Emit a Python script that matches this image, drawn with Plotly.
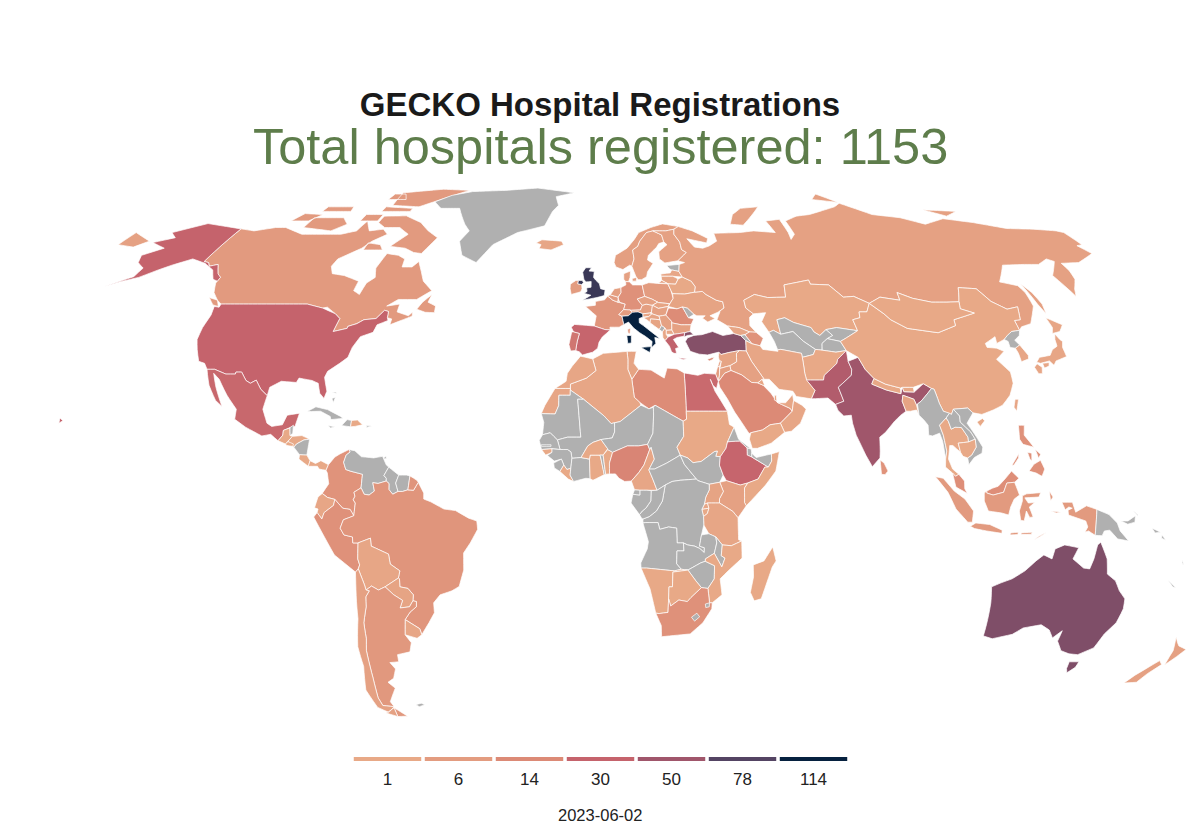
import numpy as np
import plotly.graph_objects as go

TITLE = "GECKO Hospital Registrations"
SUBTITLE = "Total hospitals registered: 1153"
DATE_LABEL = "2023-06-02"

# Colour steps of the legend
legend_breaks = [1, 6, 14, 30, 50, 78, 114]
legend_colors = ["#E8A987", "#E39C80", "#DC8A76", "#C5636C", "#A0566B", "#544463", "#06213F"]
NO_DATA = "#B0B0B0"

# Hospitals per country, read from the colours (countries not listed are grey)
hospitals = {
    "Italy": 114, "United Kingdom": 90, "Australia": 62, "Turkey": 60, "India": 50, "Pakistan": 40,
    "Bangladesh": 3, "USA": 30, "Mexico": 28, "Spain": 29, "Portugal": 22, "Greece": 32, "Ethiopia": 29,
    "Egypt": 27, "Nigeria": 16, "Saudi Arabia": 14, "Libya": 13, "South Africa": 11, "Romania": 13,
    "Germany": 11, "France": 9, "Canada": 7, "Brazil": 9, "Argentina": 8, "Colombia": 10, "Peru": 11,
    "Ecuador": 2, "Bolivia": 2, "Paraguay": 3, "Uruguay": 2, "Chile": 4, "Russia": 4, "China": 1,
    "Kazakhstan": 1, "Mongolia": 1, "Norway": 5, "Sweden": 4, "Finland": 4, "Denmark": 4, "Iceland": 2,
    "Ireland": 6, "Belgium": 6, "Netherlands": 5, "Luxembourg": 2, "Switzerland": 6, "Austria": 5,
    "Poland": 6, "Czechia": 4, "Slovakia": 3, "Hungary": 4, "Slovenia": 2, "Croatia": 3, "Bosnia": 3,
    "Serbia": 4, "North Macedonia": 2, "Albania": 2, "Bulgaria": 4, "Latvia": 2, "Lithuania": 2,
    "Belarus": 1, "Ukraine": 3, "Georgia": 2, "Azerbaijan": 10, "Cyprus": 14, "Afghanistan": 1, "Iran": 2,
    "Iraq": 4, "Syria": 3, "Lebanon": 5, "Israel": 6, "Jordan": 5, "Kuwait": 2, "Qatar": 2, "UAE": 2,
    "Oman": 2, "Yemen": 1, "Nepal": 1, "Bhutan": 1, "Sri Lanka": 10, "Taiwan": 2, "South Korea": 2,
    "Japan": 2, "Thailand": 1, "Cambodia": 1, "Malaysia": 12, "Indonesia": 7, "Philippines": 11,
    "New Zealand": 4, "Guatemala": 1, "Honduras": 1, "El Salvador": 1, "Costa Rica": 1, "Panama": 1,
    "Dominican Republic": 1, "Tunisia": 3, "Algeria": 2, "Morocco": 2, "Western Sahara": 2, "Sudan": 1,
    "Somalia": 1, "Kenya": 4, "Uganda": 3, "Rwanda": 2, "Burundi": 1, "Tanzania": 2, "Mozambique": 1,
    "Namibia": 1, "Botswana": 1, "Madagascar": 1, "Ghana": 1, "Burkina Faso": 1, "Benin": 1,
    "Cameroon": 2, "Liberia": 1, "Guinea-Bissau": 1,
}

# Hand-estimated outlines: "lon lat lon lat ..." with "|" between separate land masses
outlines = {
    "Canada": "-141 69.6 -135 69 -128 70 -124 70 -115 68 -108 68 -100 68 -95 69 -94 72 -90 69 -85 69.5 -82 68 -86 66 -88 64 -94 61 -94.5 59 -92.5 57 -88 56.5 -82 55 -82 52.5 -79.5 51.5 -79 54.5 -77 56 -78.5 58.5 -77.5 62.5 -73 62 -70 61 -69.5 58.8 -66 58.8 -64.5 60.3 -62 57.5 -60 55 -56 52.5 -60 50.2 -66 50.2 -69 48.5 -65 49 -65 47 -61 46 -60 47 -59.8 45.9 -66 43.7 -66 45.2 -67.5 45.5 -67.8 47.1 -69.2 47.4 -71 45.3 -74.7 45 -76.5 44 -79 43.3 -79 42.8 -83 42 -82.5 45.3 -84.5 46.5 -88 48.2 -89.5 48 -95 49 -123 49 -125 50 -128 52 -130 54.5 -130 55 -130 56 -132 57 -135 59.5 -137.5 59 -139 60 -141 60.3|-59 47.7 -57.8 49.5 -55.5 51.5 -56 49.5 -53.2 48.5 -53 46.8 -56 46.9|-128.3 50.7 -125 50 -123.4 48.4 -125.5 48.8|-80 73.6 -72 71.5 -67 69 -62 67 -65 62.5 -68 62.8 -72 64 -78 64.5 -74 68 -79 70 -85 70 -89 71.5 -89 73.5|-117 70 -105 69 -101 71 -105 73 -117 73|-125 72 -118 72 -115 74 -123 74.3|-90 77 -78 76.5 -62 82.5 -75 83 -92 81.5|-92 75 -80 75 -80 76 -92 76.5|-117 75 -105 75 -106 76.5 -117 76.5|-95 79 -87 79 -90 81 -95 81|-97 72 -90 72 -90 74 -97 74|-87 63.5 -80 63.5 -82 65 -87 65.5",
    "USA": "-123 49 -95 49 -89.5 48 -84.5 46.5 -82.5 45.3 -83 42 -79 42.8 -79 43.3 -76.5 44 -74.7 45 -71 45.3 -69.2 47.4 -67.8 47.1 -67.5 45.5 -67 44.8 -70 43.7 -70.5 41.8 -74 40.7 -75.5 38 -76 35.5 -78 34 -81 32 -81.5 30.5 -80 27 -80.5 25.2 -82 26.5 -83 29 -85 29.7 -89 30.3 -89.5 29.2 -94 29.5 -97 28 -97.2 25.9 -99.5 27.5 -101.5 29.8 -103 29 -104.5 29.7 -106.5 31.8 -108.2 31.8 -108.2 31.3 -111 31.3 -114.8 32.5 -117.1 32.5 -118.5 34 -120.5 34.5 -122.5 37.5 -124 40 -124.3 43 -124 46.2 -124.7 48.4 -123 48.2|-141 69.6 -141 60.3 -139 60 -137.5 59 -135 59.5 -132 57 -130 56 -130 55 -132 55.5 -135 58 -140 59.8 -146 61 -151 59.3 -154 58 -158 56 -163 54.8 -166.5 53.6 -160 56.2 -160 58.5 -164 60 -166 62 -161 64 -168 65.6 -162 67 -166 68.5 -157 71.2 -148 70.3|-156 19 -155 19.6 -156 20.3",
    "Greenland": "-73 78.2 -68 76 -60 76 -54 71 -51 69 -53 66 -50 62 -44 60 -40 65 -32 68.5 -22 70.5 -20 75 -18 77 -20 80 -12 81.5 -30 83.5 -45 82.5 -60 82 -68 80.5",
    "Mexico": "-117.1 32.5 -114.8 32.5 -111 31.3 -108.2 31.3 -108.2 31.8 -106.5 31.8 -104.5 29.7 -103 29 -101.5 29.8 -99.5 27.5 -97.2 25.9 -97.8 22.5 -96 19 -94.5 18.2 -91.5 18.6 -90.5 21 -87 21.5 -87.8 18.2 -89.2 17.9 -91 17.2 -91 16 -92.2 14.6 -94.5 16.2 -97 15.8 -102 18 -105.5 20 -105.5 22.5 -109 26 -112.5 30 -114.7 31.5 -112.8 28 -109.8 23.2 -112 24.7 -115 28.5",
    "Guatemala": "-92.2 14.6 -91 16 -91 17.2 -89.2 17.8 -88.9 15.9 -88.2 15.7 -89.2 14.6 -90 13.8",
    "Belize": "-89.2 17.9 -88.3 18.5 -88.2 16.5 -88.9 15.9",
    "Honduras": "-89.3 14.5 -88.2 15.7 -85.5 15.9 -83.2 15 -84.8 14.8 -86.8 13.8 -87.5 13",
    "El Salvador": "-90 13.8 -89.3 14.4 -87.7 13.8 -87.8 13.2 -89.5 13.4",
    "Nicaragua": "-87.5 13 -86.8 13.8 -84.8 14.8 -83.2 15 -83.6 11 -85.7 11.1",
    "Costa Rica": "-85.7 11.1 -83.6 11 -82.6 9.6 -83 8.2 -85.8 10",
    "Panama": "-83 8.2 -82.6 9.6 -81 8.9 -79.5 9.6 -77.3 8.6 -77.9 7.2 -79.9 7.5 -80.4 8.2",
    "Cuba": "-84.9 21.9 -82.5 23.1 -79 22.4 -75 20.7 -74.2 20.2 -77.7 19.9 -78 20.7 -81 22",
    "Jamaica": "-78.3 18.4 -76.3 18.1 -77.5 17.8",
    "Haiti": "-74.4 18.4 -73 19.9 -71.7 19.7 -71.8 18.1",
    "Dominican Republic": "-71.7 19.7 -70 19.8 -68.4 18.6 -70.5 18.2 -71.8 18.1",
    "Puerto Rico": "-67.2 18.4 -65.7 18.3 -67.2 17.95",
    "Bahamas": "-78.2 25.2 -77.6 24.2 -77.2 25.5|-77.5 26.8 -76.9 26.5 -78.5 26.6",
    "Trinidad": "-61.9 10.1 -60.9 10.1 -61 10.8",
    "Colombia": "-77.3 8.6 -75.6 10.5 -74.2 11.3 -71.7 12.4 -71.3 11.8 -72.4 11 -73 9.2 -72.3 7.4 -71 7 -67.5 6.2 -67.8 2.8 -69.8 1.7 -69.5 0.7 -70 -0.2 -69.4 -1 -69.9 -4.2 -70.9 -2.6 -73 -2.3 -75.2 -0.1 -77.3 0.4 -78.8 1.4 -77 3.8 -77.5 6.5 -77.9 7.2",
    "Venezuela": "-71.7 12.4 -70 12.1 -68 10.6 -64.5 10.3 -62 10.7 -60.8 8.5 -60.1 8 -61.4 5.9 -60.7 5.2 -60.7 4.5 -63 3.9 -64.5 4.1 -64 2 -65.5 1 -66.9 1.2 -67.8 2.8 -67.5 6.2 -71 7 -72.3 7.4 -73 9.2 -72.4 11 -71.3 11.8",
    "Guyana": "-60.1 8 -58.5 6.9 -57.2 6 -58 4 -57.3 1.9 -58.8 1.2 -59.9 2.4 -59.9 3.9 -60.7 4.5 -60.7 5.2 -61.4 5.9",
    "Suriname": "-57.2 6 -55 6 -54 5.8 -54.5 2.3 -56 1.9 -57.3 1.9 -58 4",
    "Ecuador": "-78.8 1.4 -77.3 0.4 -75.2 -0.1 -75.6 -1.6 -78.3 -3.4 -79 -5 -80.3 -3.4 -80 -2.5 -81 -2.2 -80 0.5",
    "Peru": "-81.3 -4.5 -80.3 -3.4 -79 -5 -78.3 -3.4 -75.6 -1.6 -75.2 -0.1 -73 -2.3 -70.9 -2.6 -69.9 -4.2 -72.9 -5.2 -73.9 -7.3 -72.9 -9 -70.5 -9.5 -70.5 -11 -69 -11 -69.4 -15 -69 -16.5 -69.5 -17.5 -70.4 -18.3 -76 -14 -78.5 -9.5",
    "Brazil": "-51.6 4.2 -50 1.5 -50 0 -48 -0.7 -44.3 -2.5 -41 -2.9 -37.3 -4.8 -35 -5.5 -34.8 -7.6 -37 -11 -39 -13.5 -39.2 -17.8 -40.8 -21.9 -43 -23 -46.5 -24 -48.6 -26 -48.7 -28.5 -50.7 -31 -53.4 -34 -53.7 -32.5 -57.6 -30.2 -55.8 -28.3 -53.8 -27 -53.6 -25.7 -54.6 -25.5 -54.3 -24 -55.7 -22.4 -58 -22 -57.9 -20 -58.2 -19.8 -57.6 -18 -60.2 -16.3 -60.5 -13.8 -65.3 -11.8 -65.4 -9.8 -69 -11 -70.5 -11 -70.5 -9.5 -72.9 -9 -73.9 -7.3 -72.9 -5.2 -69.9 -4.2 -69.4 -1 -70 -0.2 -69.5 0.7 -69.8 1.7 -67.8 2.8 -66.9 1.2 -65.5 1 -64 2 -64.5 4.1 -63 3.9 -60.7 4.5 -59.9 3.9 -59.9 2.4 -58.8 1.2 -57.3 1.9 -56 1.9 -54.5 2.3 -52.9 2.2",
    "Bolivia": "-69 -11 -65.4 -9.8 -65.3 -11.8 -60.5 -13.8 -60.2 -16.3 -57.6 -18 -58.2 -19.8 -62.3 -22 -64.3 -22.8 -66.2 -21.8 -67.9 -22.8 -68.2 -21.5 -69.5 -17.5 -69 -16.5 -69.4 -15",
    "Paraguay": "-58.2 -19.8 -57.9 -20 -58 -22 -55.7 -22.4 -54.3 -24 -54.6 -25.5 -55.8 -27 -58.6 -27.3 -57.6 -25.4 -60 -24 -62.3 -22",
    "Uruguay": "-57.6 -30.2 -53.7 -32.5 -53.4 -34 -55 -34.9 -58.4 -34",
    "Argentina": "-66.2 -21.8 -64.3 -22.8 -62.3 -22 -60 -24 -57.6 -25.4 -58.6 -27.3 -55.8 -27 -54.6 -25.5 -53.6 -25.7 -53.8 -27 -55.8 -28.3 -57.6 -30.2 -58.4 -34 -57 -36 -58 -38.3 -62 -39 -62.2 -40.8 -65 -41 -63.8 -42.6 -65.3 -45 -67.5 -46 -65.8 -47.5 -69 -51 -68.4 -52.3 -72 -52 -72.5 -50 -71.8 -45 -71.5 -42 -71.2 -38 -70.3 -35 -70 -31 -68.5 -27 -68.2 -24.5 -67 -23 -67.9 -22.8|-68.6 -52.6 -65.2 -54.8 -68.6 -54.9",
    "Chile": "-69.5 -17.5 -68.2 -21.5 -67.9 -22.8 -67 -23 -68.2 -24.5 -68.5 -27 -70 -31 -70.3 -35 -71.2 -38 -71.5 -42 -71.8 -45 -72.5 -50 -72 -52 -68.4 -52.3 -71 -53.8 -74 -52.5 -75.5 -48 -73.5 -42 -73.5 -37 -71.5 -30 -70.4 -18.3|-68.6 -52.6 -68.6 -54.9 -72 -54 -70 -53.2",
    "Falkland Islands": "-61 -51.8 -59 -51.4 -58 -51.8 -60 -52.3",
    "Iceland": "-24 65.5 -22 66.4 -18 66.2 -14.5 66 -13.6 65 -18 63.5 -22.5 63.9 -22 65",
    "Ireland": "-10 54.2 -8.2 55.2 -7.3 55.2 -7.5 54.3 -6.2 54.1 -6 53 -6.4 52.2 -9.5 51.5 -10 53",
    "United Kingdom": "-5.7 50 -1 50.7 1.4 51.2 1.7 52.7 0.2 53 -0.2 54.3 -1.5 55.3 -2.2 56 -2 57.6 -3.8 57.7 -3 58.6 -5 58.6 -6 57.4 -5.5 55.5 -4.8 54.8 -3 54.9 -3 53.4 -4.5 53.2 -4.3 52.3 -5.3 51.8 -3 51.3|-7.5 54.3 -7.3 55.2 -6 55.2 -5.6 54.6 -6.2 54.1",
    "France": "-1.8 43.4 -1.2 46 -4.7 48.4 -1.5 48.7 -1.5 49.7 1.5 50.1 2.5 51.1 4.2 50 5.8 49.5 8.2 49 7.6 47.6 6 46.3 7 45.9 7.5 43.8 6 43.1 3.1 43.1 3.2 42.4 1.5 42.5|8.6 42.5 9.5 42.9 9.3 41.4 8.7 41.6|-54 5.8 -52 4.7 -51.6 4.2 -52.9 2.2 -54.5 2.3",
    "Spain": "-9 43.1 -8 43.8 -1.8 43.4 1.5 42.5 3.2 42.4 0.7 40.6 -0.3 39.3 -0.7 37.8 -2.2 36.8 -5.3 36.1 -6.3 36.9 -7.4 37.2 -7 39.5 -6.4 41.5 -8.2 41.9",
    "Portugal": "-8.8 41.9 -8.2 41.9 -6.4 41.5 -7 39.5 -7.4 37.2 -8.9 37.1 -9.5 38.7",
    "Belgium": "2.5 51.1 3.4 51.4 6 50.8 5.8 49.5 4.2 50",
    "Netherlands": "3.4 51.4 4.8 53 7 53.3 7 52 6 50.8",
    "Luxembourg": "5.8 49.5 6.1 50.1 6.4 49.5",
    "Germany": "6 50.8 7 52 7 53.3 8.7 54 8.7 54.9 10 54.8 11 54 14.2 54 14.7 51 12.2 50.3 13.7 48.7 13 47.5 10 47.4 7.6 47.6 8.2 49 6.4 49.5 6.1 50.1",
    "Switzerland": "6 46.3 7.6 47.6 9.6 47.5 10.4 46.9 9 46 7 45.9",
    "Austria": "9.6 47.5 10 47.4 13 47.5 13.7 48.7 15 49 17 48.7 16.5 47 15.9 46.7 13.7 46.5 12.2 47 10.4 46.9",
    "Italy": "7 45.9 9 46 10.4 46.9 12.2 47 13.7 46.5 13.7 45.7 12.4 45.3 12.4 44.2 13.6 43.5 16 41.9 18.5 40.2 16.9 40.5 17.1 39 15.7 37.9 16 39.5 14 40.8 12.3 41.7 10.5 42.9 9 44.4 7.5 43.8|12.5 38 15.6 38.2 15.1 36.7|8.3 41 9.7 41 9.6 39.1 8.5 39",
    "Denmark": "8.1 55.5 8.2 57 10.6 57.7 10.3 56 9.7 54.9 8.7 54.9|11 55.7 12.6 56 12.3 55 11 55",
    "Norway": "5 60 5.6 62 10 64 13 66.5 15 68.5 20 70 25 71.1 31 70.3 29 69.5 25.7 69 20.6 69 18 68.5 15 66 14 64.5 12 63.5 12.2 61 11.2 59 10.5 59.3 8 58.1 5.6 58.8",
    "Sweden": "11.2 59 12.2 61 12 63.5 14 64.5 15 66 18 68.5 20.6 69 23.7 67.8 24 65.8 22 65.3 21 64.3 17.5 62 17 60.7 18.8 59.8 16.5 57.5 16 56.2 14.2 55.4 13 55.4 12.3 56.3",
    "Finland": "20.6 69 25.7 69 29 69.5 28.5 68 30 65.7 30 63.6 31.5 62.8 27.8 60.5 23 59.9 21.3 61 21.5 63 25 65 24 65.8 23.7 67.8",
    "Estonia": "23.5 59.2 28 59.5 27.4 57.6 25 58 24.3 58.3",
    "Latvia": "21 56.9 21 56.3 25 56.3 28.2 56.1 27.4 57.6 25 58 24.3 57.2 23 57.1",
    "Lithuania": "21 56.3 21 55.2 22.9 54.3 25.5 54.2 26.7 55.6 25 56.3",
    "Poland": "14.2 54 16.5 54.6 19.5 54.4 22.9 54.3 23.6 52.6 24 50.5 22.7 49.1 19 49.4 17 50.3 14.7 51",
    "Czechia": "12.2 50.3 14.7 51 17 50.3 18.8 49.5 17 48.7 15 49 13.7 48.7",
    "Slovakia": "17 48.7 18.8 49.5 19 49.4 22.5 49.1 22.1 48.4 18.8 47.9",
    "Hungary": "16.5 47 17 48.7 18.8 47.9 22.1 48.4 21 46.2 18.8 45.9 16.6 46.5",
    "Slovenia": "13.7 45.7 13.7 46.5 15.9 46.7 16.6 46.5 15.5 45.8",
    "Croatia": "13.7 45.5 15.5 45.8 16.6 46.5 18.8 45.9 19 45 16 45.2 15.8 44.2 18.5 42.5 14.8 45",
    "Bosnia": "16 45.2 19 45 19.3 43.5 18.5 42.5 15.8 44.2",
    "Serbia": "18.8 45.9 21 46.2 22.6 44.6 22.4 42.4 20.6 42.3 20.3 42.9 19.3 43.5 19 45",
    "Montenegro": "18.5 42.5 19.3 43.5 20.3 42.9 19.4 41.9",
    "North Macedonia": "20.5 41.3 20.6 42.3 22.4 42.4 23 41.3",
    "Albania": "19.4 41.9 20.3 42.9 20.6 42.3 20.5 41.3 21 40.6 20 39.7 19.4 40.5",
    "Romania": "21 46.2 22.1 48 24.8 47.8 26.6 48.3 28.1 45.5 29.7 45.2 28.6 43.7 25.5 43.7 22.6 44.2 22.6 44.6",
    "Moldova": "26.6 48.3 28.2 48 30 46.4 28.1 45.5",
    "Bulgaria": "22.6 44.2 25.5 43.7 28.6 43.7 28 42 26.3 41.7 23 41.3 22.4 42.4",
    "Greece": "20 39.7 21 40.6 23 41.3 26.3 41.7 26 40.8 23.8 40.5 22.6 40 23.3 39 24 38 23 37.7 23.2 36.5 22.4 36.5 21.7 36.9 21.2 38.3|23.6 35.4 26.3 35.2 25 34.9",
    "Turkey": "26 40.6 26.3 41.7 28 42 29 41.2 27 41|26.2 39.5 27 40.4 29 41 31.5 41.2 35 42 38 41 41.5 41.5 43.5 41 44.8 39.7 44.4 37.1 42.3 37.2 39 36.7 36.6 36.2 36 36.8 32.5 36.1 30 36.3 27.4 37",
    "Cyprus": "32.3 35 33.6 35.4 34.5 35.6 33.8 34.9 32.8 34.6",
    "Belarus": "23.6 52.6 22.9 54.3 25.5 54.2 26.7 55.6 28.2 56.1 31 55 32 53.5 31.4 52.1 28 51.6 24 51.7",
    "Ukraine": "24 50.5 22.7 49.1 22.1 48.4 24.8 47.8 26.6 48.3 28.2 48 30 46.4 30.8 46 33.5 46 32.5 45.4 34 44.4 36.5 45.3 35 46 38 47 40 48 40 49.6 38 50 35 51.5 34 52.3 31.4 52.1 28 51.6 24 51.7",
    "Russia": "30 60 27.8 60.5 31.5 62.8 30 63.6 30 65.7 28.5 68 29 69.5 31 70.3 36 69 41 66.8 40 65.5 33 66.7 35 64.3 38 64 40.5 64.6 44 66 44 68.3 54 68.5 60 69 68 68.5 67 72 73 72.5 73 68.5 72.5 66.5 75 68 75 72 81 73.5 87 74 101 76.5 105 77.7 113 74 123 73 130 71 140 72.7 150 71.5 160 69.7 170 69.5 178 69 179.9 68.5 179.9 65 177.5 64.7 179 62.5 170 60 163.5 59.8 163.3 57.8 162 55.5 158.5 52.9 156.7 51 155.7 56.5 161.8 60.3 160 61 155 59.5 150 59.5 142 59.3 135.5 54.8 140.5 53.8 141 52 140.2 48.5 135.5 44 132 43.2 130.7 42.3 131 44.8 133 45 134.9 48.3 131 47.7 127.5 49.7 125.7 53 120 53.3 117 49.6 113 49.5 108 49.5 102.5 50.5 98.5 52 98 50 92 50.8 87.5 49.2 83.5 51 80 50.8 77 54 71 54.2 71 55.3 62 54 61 50.8 55 50.7 51 51.5 47 50 47 48 49 46.5 47.5 45.6 47 43.5 48.5 41.8 46.5 41.9 43.5 43 40 43.4 37 45 38.5 47.1 38 47 40 48 40 49.6 38 50 35 51.5 34 52.3 31.4 52.1 32 53.5 31 55 28.2 56.1 27.4 57.6 28 59.5|142 54.3 143.2 52 143.5 49 142.5 46.5 142 49|52 71 57 70.7 68 76.5 60 76 55 74|19.8 54.5 21 55.2 22.8 54.4|-179.9 68.5 -170 66 -173 64.3 -179.9 65|95 79 105 78 100 81|137 75.5 143 73.5 150 75",
    "Georgia": "40 43.4 43.5 43 46.5 41.9 44.9 41.2 43.5 41 41.5 41.5",
    "Armenia": "43.5 41 44.9 41.2 46.5 39 46.5 38.9 44.8 39.7",
    "Azerbaijan": "44.9 41.2 46.5 41.9 48.5 41.8 50.3 40.3 48.9 38.4 46.5 38.9 46.5 39",
    "Kazakhstan": "47 50 51 51.5 55 50.7 61 50.8 62 54 71 55.3 71 54.2 77 54 80 50.8 83.5 51 87.5 49.2 85.5 47 83 47 82.5 45.5 80 45 80.2 42.2 74 43 70.5 42.5 68 41 66.5 41.9 66 43 61 44.3 58.6 45.5 56 45 56 41.3 54 42.3 52.5 41.8 51 44.5 53 46.8 49 46.5 47 48",
    "Uzbekistan": "56 45 58.6 45.5 61 44.3 66 43 66.5 41.9 68 41 70.5 42.5 72 41 70 40.2 68 39 67.5 37.3 65.5 37.5 62.5 39.5 60 42 56 41.3",
    "Turkmenistan": "52.5 41.8 54 42.3 56 41.3 60 42 62.5 39.5 65.5 37.5 64.5 36.2 61 35.5 61 36.5 55 37.5 54 37.4 53.5 39.5",
    "Kyrgyzstan": "70.5 42.5 74 43 80.2 42.2 76 40.4 73.8 39.5 70 40.2 72 41",
    "Tajikistan": "68 39 70 40.2 73.8 39.5 74.8 37.2 71.5 36.8 67.5 37.3",
    "Afghanistan": "61 35.5 64.5 36.2 65.5 37.5 67.5 37.3 71.5 36.8 74.8 37.2 71.5 35 71 34 69.5 33 66.5 31 66 29.8 61 29.8 60.8 31.5",
    "Pakistan": "60.9 29.8 66 29.8 66.5 31 69.5 33 71 34 71.5 35 74.8 37.2 74.5 34.5 75 32.5 74.5 31 70 28 71 24.5 68.5 23.7 66.5 25.3 61.6 25.1 63 27.2",
    "India": "74.5 34.5 77.8 35.5 79 32.5 81 30.2 80 28.8 84 27.3 88 26.4 88.8 28 89 26.9 92 26.8 95.2 28.9 97.3 27.7 93.5 24.5 92.3 23.8 92 23.5 91.5 25 88.5 26 88 24.5 88.7 22 87 21 85 19.5 82 16.7 80.2 15.5 80 12 79.8 10.3 77.5 8.1 75.8 11 73.5 16 72.8 19 72.7 21 70.5 20.8 69 22.2 68.5 23.7 71 24.5 70 28 74.5 31 75 32.5",
    "Nepal": "80 28.8 81 30.2 84 28.8 88.2 27.8 88 26.4 84 27.3",
    "Bhutan": "88.8 28 92 28 92 26.8 89 26.9",
    "Bangladesh": "88 24.5 88.5 26 91.5 25 92 23.5 92.3 21 91.8 22.3 90 22 88.7 22",
    "Sri Lanka": "79.8 9.8 80.9 9 81.9 7 81 6.1 80 6.2",
    "China": "74.8 37.2 73.8 39.5 76 40.4 80.2 42.2 80 45 82.5 45.5 83 47 85.5 47 87.5 49.2 90.7 46.5 92 45 96 42.8 105 41.7 111.5 43.5 112 45 119.7 46.7 116 47.8 117 49.6 120 53.3 125.7 53 127.5 49.7 131 47.7 134.9 48.3 133 45 131 44.8 130.7 42.3 128 42 126 41 124.4 40 121.5 39 122 40.7 118 39 118 38 120.8 37.8 122.6 37 119.3 35 122 31.8 121.7 29 119.8 26 117 23.5 114 22.3 110.5 21.2 108 21.6 106.7 22.8 102.5 22.5 101.7 21.2 99.5 22 98.7 24 98 27.5 97.3 27.7 95.2 28.9 92 28 88.8 28 88.2 27.8 84 28.8 81 30.2 79 32.5 77.8 35.5|108.7 19.3 110.5 20.2 111 19.6 109.5 18.2",
    "Mongolia": "87.5 49.2 92 50.8 98 50 98.5 52 102.5 50.5 108 49.5 113 49.5 117 49.6 116 47.8 119.7 46.7 112 45 111.5 43.5 105 41.7 96 42.8 92 45 90.7 46.5",
    "Taiwan": "121 25 122 25 120.8 22 120.2 23",
    "North Korea": "124.4 40 126 41 128 42 130.7 42.3 129.7 41 127.5 39.8 128.3 38.6 126.5 37.8 125 38 125.3 39.5",
    "South Korea": "126.5 37.8 128.3 38.6 129.4 36 129 35.1 126.5 34.4 126.7 36.5",
    "Japan": "141 41.4 141.5 40 142 39.5 141 38 140.8 35.7 137 34.6 135.8 33.5 135 34.6 132 34 131 34.3 132.5 35.5 136 36 137.5 37.4 139.5 38.3 140 40|141.5 45.5 145.2 43.7 143 42 140.3 41.5 141.5 43|130.9 33.9 132 33 131.3 31.4 130.2 31.4 129.7 33|132.6 34 134.7 34.2 134.2 33.3 132.6 32.8",
    "Myanmar": "92.3 21 92.3 23.8 93.5 24.5 97.3 27.7 98 27.5 98.7 24 99.5 22 101.2 21.5 100 20.3 97.8 18.5 98.5 16 99 12 98.5 10 98.1 14.5 97.5 16.5 95.4 15.8 94.3 16 94.5 18.5 93.5 19.8",
    "Thailand": "98.5 10 99 12 98.5 16 97.8 18.5 100 20.3 100.5 19.5 101 17.5 102.2 18 104 17.9 105.5 15.5 105.5 14.3 102.5 14 102.9 11.7 100.9 13.4 100 13.4 99.3 10 100.3 7.5 102 6.2 101 5.7 100.2 6.5 98.3 8",
    "Laos": "100 20.3 101.2 21.5 101.7 21.2 102.5 22.5 104 20.8 103.9 19.3 106.5 16.8 107.5 15 105.5 14.3 105.5 15.5 104 17.9 102.2 18 101 17.5 100.5 19.5",
    "Vietnam": "102.5 22.5 106.7 22.8 108 21.6 105.8 19 107.5 16.3 109.4 13 109 11.5 106.7 10.4 105 8.6 104.8 10.3 106 11 107.5 13 107.5 15 106.5 16.8 103.9 19.3 104 20.8",
    "Cambodia": "102.9 11.7 102.5 14 105.5 14.3 107.5 15 107.5 13 106 11 104.8 10.3 103.5 10.7",
    "Malaysia": "100.2 6.5 101 5.7 102 6.2 103.5 4.5 103.5 2.6 104.2 1.4 101 3|109.7 2 111.3 2.7 113 3.2 115 5 117 7 119 5.2 117.7 4.2 115.5 4 114.5 1.7 111.5 1 109.7 1.5",
    "Indonesia": "95.3 5.6 97.5 5.2 100.5 2 103.5 0 106 -3 105.8 -5.8 104.5 -5.8 101 -2.5 98.7 1.7|105.3 -6.8 106.8 -6 110.8 -6.4 114.4 -7.8 114.4 -8.6 110 -8 106.5 -7.4|109 1.5 109.7 2 109.7 1.5 111.5 1 114.5 1.7 115.5 4 117.7 4.2 119 1 117.5 0 116.5 -2 116 -4 114 -3.5 110.2 -3 109 -0.5|119.8 0.8 121 1.3 125 1.6 124.5 0.5 120.5 0.3 121.5 -1 123.3 -0.9 121.8 -2 123 -4.5 122 -4.6 121 -3 120.5 -5.5 119.5 -5.3 119 -3 119.8 -0.5|131 -0.8 134 -0.8 135 -3.3 138 -1.7 141 -2.6 141 -9.1 139 -8 138 -8.3 138.7 -7 138 -5.5 133 -4 132.8 -2.8 134 -2.3 133 -2 132 -2.7|123.5 -10.3 125 -9.3 127 -8.4 125 -9.6|119.8 -8.5 123 -8.3 122.8 -8.8 120 -8.9|116.8 -8.5 119 -8.3 119 -8.9 116.8 -9|127.5 2 128.5 0.5 127.8 -0.5 127.6 1|128 -3 130.8 -3.3 129.5 -3.5",
    "Philippines": "120.5 18.5 122.2 18.5 121.7 16 124 13 121 13.7 120.2 15|122 7 123.5 8.7 125.5 9.7 126.5 7.5 125.6 5.7 124 6.5|122 11.7 123.2 11.5 123 9.5 122.5 10|124.3 12.5 125.7 11.2 125 10.2|117.2 8.4 119.5 11.4 119.3 10.3 117.8 8.5",
    "Papua New Guinea": "141 -2.6 144.5 -3.9 147 -6 148 -8 150.7 -10.5 147.5 -10 145 -7.8 143.5 -8 143 -9.2 141 -9.1|148 -5.5 150 -5.5 152 -4.2 152 -5.8 150 -6.3|151 -2.8 152.8 -4 152.6 -4.1",
    "Solomon Islands": "157 -7.3 159.5 -8.3 158 -8.5|160 -9 161.3 -10.3 160 -9.8",
    "Vanuatu": "167 -15.2 167.5 -16.5 167 -16",
    "New Caledonia": "164 -20.2 167 -22.3 166 -22",
    "Fiji": "177.3 -17.5 178.5 -18 177.5 -18.3",
    "Iran": "44.8 39.7 46.5 38.9 48.9 38.4 49.5 37.5 54 37 54 37.4 55 37.5 61 36.5 61 35.5 60.8 31.5 61 29.8 63 27.2 61.6 25.1 57.3 25.7 56.5 27 52.5 27.5 50 30 48.5 30 46.5 33 45.5 34.5 44.4 37.1",
    "Iraq": "42.3 37.2 44.4 37.1 45.5 34.5 46.5 33 48.5 30 47.9 30 46.5 29.1 44.7 29.2 42 31.1 39 32.2 38.8 33.4 41 34.4 41.3 36.5",
    "Syria": "36 36.8 36.6 36.2 39 36.7 42.3 37.2 41.3 36.5 41 34.4 38.8 33.4 35.7 32.7 36 33.3 36.4 34.5 35.9 34.6 35.7 35.6",
    "Lebanon": "35.1 33.1 35.7 33.2 36.4 34.5 35.9 34.6",
    "Israel": "34.3 31.3 34.9 29.5 35.4 31 35.7 33.2 35.1 33.1",
    "Jordan": "34.9 29.4 35.4 31 35.7 32.7 38.8 33.4 39 32.2 37 31.5",
    "Saudi Arabia": "34.9 29.4 37 31.5 39 32.2 42 31.1 44.7 29.2 46.5 29.1 48 28.5 50 26.5 51.6 24.2 55.2 22.7 55.7 22 52 19 49 18.6 46.7 17.3 43.3 16.6 42.8 16.4 41 19 39 21.8 37.2 25 35.2 28",
    "Kuwait": "46.5 29.1 47.9 30 48.4 28.6 48 28.5",
    "Qatar": "50.8 24.8 51.5 24.5 51.5 26 51 26",
    "UAE": "51.6 24.2 54 24.1 56.3 26.2 56.4 24.7 55.7 22 55.2 22.7",
    "Oman": "55.7 22 56.4 24.7 58.7 23.5 59.8 22.5 57.8 19 55 17 53 16.7 52 19",
    "Yemen": "43.3 16.6 46.7 17.3 49 18.6 52 19 53 16.7 49 14 45 12.7 43.5 12.7 42.8 15",
    "Egypt": "25 31.6 29 31 31 31.5 34.3 31.3 34.9 29.5 34.2 27.7 33.2 28.5 32.6 30 33.7 27 35.7 23.9 36.9 22 31.4 22 25 22",
    "Libya": "25 31.6 25 22 25 20 24 19.5 16 23.5 14.2 22.6 11.6 24.2 10 25.5 9.4 30 11.5 32.5 15.2 32.3 19 30.3 20 32.8 23 32.6",
    "Tunisia": "8.2 37 11 37 10.2 34 11.5 32.5 9.4 30 8.3 32.5 8.4 35",
    "Algeria": "-2.2 35.1 1 36.5 8.2 37 8.4 35 8.3 32.5 9.4 30 10 25.5 11.6 24.2 11.9 23.5 5.8 19.4 4.2 19.1 3.2 18.9 1.2 20.8 -4.8 25 -8.7 27.3 -8.7 28.8 -4 30.3 -1.2 32.2",
    "Morocco": "-5.9 35.8 -2.2 35.1 -1.2 32.2 -4 30.3 -8.7 28.8 -8.7 27.7 -13.2 27.7 -10 29.5 -9.7 31.5 -8.3 33.3",
    "Western Sahara": "-13.2 27.7 -8.7 27.7 -8.7 26 -12 26 -12 23.4 -13 21.3 -17 21.4 -16 23.5",
    "Mauritania": "-17 21.4 -13 21.3 -12 23.4 -12 26 -8.7 26 -8.7 27.3 -4.8 25 -6.5 25 -5.5 15.5 -9.3 15.5 -12.2 14.8 -14.3 16.6 -16.5 16.1 -16.2 19.2",
    "Mali": "-12.2 14.8 -9.3 15.5 -5.5 15.5 -6.5 25 -4.8 25 1.2 20.8 3.2 18.9 4.2 19.1 4.2 16.8 3.5 15.3 0.3 14.9 -2 14.2 -3.5 13.3 -5.4 10.4 -8 10.2 -8.3 11.8 -9.3 12.4 -11.4 12.4",
    "Senegal": "-16.5 16.1 -14.3 16.6 -12.2 14.8 -11.4 12.4 -13.7 12.6 -16.7 12.4 -17.4 14.7",
    "Gambia": "-16.8 13.6 -14 13.6 -14 13.2 -16.8 13.2",
    "Guinea-Bissau": "-16.7 12.4 -13.7 12.6 -13.7 11.7 -15.5 11",
    "Guinea": "-13.7 12.6 -11.4 12.4 -9.3 12.4 -8.3 11.8 -8 10.2 -8.3 7.7 -9.4 7.4 -10.3 8.5 -11 10 -13 9.5 -15 10.9 -13.7 11.7",
    "Sierra Leone": "-13.2 9 -11 10 -10.3 8.5 -11.4 6.9 -13 7.8",
    "Liberia": "-11.4 6.9 -10.3 8.5 -9.4 7.4 -8.3 7.7 -8.5 6 -7.5 4.4 -9 5",
    "Ivory Coast": "-8.3 7.7 -8 10.2 -5.4 10.4 -3 10 -2.8 5.1 -4 5.2 -7.5 4.4 -8.5 6",
    "Ghana": "-3 10 -2.8 11 0 11 0.3 10 1.2 6.1 -2 4.7 -2.8 5.1",
    "Burkina Faso": "-5.4 10.4 -3.5 13.3 -2 14.2 0.3 14.9 2.2 12.6 0.9 11 0 11 -2.8 11 -3 10",
    "Togo": "0 11 0.9 11 1.6 6.2 1.2 6.1 0.3 10",
    "Benin": "0.9 11 2.2 12.4 3.6 11.7 2.7 9 2.7 6.3 1.6 6.2",
    "Niger": "0.3 14.9 3.5 15.3 4.2 16.8 4.2 19.1 5.8 19.4 11.9 23.5 14.2 22.6 15.5 23 15.5 21 15.2 16.5 13.6 13.7 11 13.3 7.8 13.3 3.6 11.7 2.2 12.4 2.2 12.6",
    "Nigeria": "2.7 6.3 2.7 9 3.6 11.7 7.8 13.3 11 13.3 13.6 13.7 14.2 12.4 12.5 8.5 11 6.6 8.9 4.5 7 4.4 5.4 5.2 4.4 6.3",
    "Cameroon": "8.9 4.5 11 6.6 12.5 8.5 14.2 12.4 14.6 13 15.5 10 13.9 7.3 15 5 16.2 2.2 13.3 2.2 11.3 2.2 9.8 2.3",
    "Chad": "13.6 13.7 15.2 16.5 15.5 21 15.5 23 16 23.5 24 19.5 24 15.7 22 13 22.9 11 19 9 15.5 7.5 14 7.5 15.5 10 14.6 13 14.2 12.4",
    "Central African Republic": "14 7.5 15.5 7.5 19 9 22.9 11 24 8.7 27.4 5 22.8 4.7 20.5 4.4 18.5 3.5 16.2 2.2 15 5 13.9 7.3",
    "Sudan": "24 15.7 24 19.5 25 20 25 22 31.4 22 36.9 22 37.3 18.7 38.6 18 36.5 14.3 36 12.7 34.3 10.6 33 10.7 33.5 12 32.7 11.9 28.8 9.4 26.5 9.1 25 10.3 22.9 11 22 13",
    "South Sudan": "24 8.7 22.9 11 25 10.3 26.5 9.1 28.8 9.4 32.7 11.9 33.5 12 33 10.7 34.3 10.6 34 8.5 35 6 34 4.2 31 3.7 27.8 4.6 27.4 5",
    "Eritrea": "36.5 14.3 38.6 18 39.7 15 43.2 12.5 42 12.8 40 14.5 37.5 14.4",
    "Djibouti": "42 12.8 43.2 12.5 43.3 11.5 43.3 10.5 42 11",
    "Ethiopia": "36 12.7 36.5 14.3 37.5 14.4 40 14.5 42 12.8 42 11 43.3 10.5 47.9 8 46.9 8 44.9 5 41.9 4 39.8 3.5 35.9 4.6 35 6 34 8.5 34.3 10.6",
    "Somaliland": "43.3 11.5 44.5 10.4 48.9 11.3 48.9 9.5 47.9 8 43.3 10.5",
    "Somalia": "48.9 11.3 51.2 11.9 50 7 47 3.5 41.5 -1.7 41 -0.9 41 2.8 41.9 4 44.9 5 46.9 8 47.9 8 48.9 9.5",
    "Kenya": "35.9 4.6 39.8 3.5 41.9 4 41 2.8 41 -0.9 41.5 -1.7 39.2 -4.7 37.7 -3.1 33.9 -1 33.9 0.1 35 1.9 34 4.2",
    "Uganda": "31 3.7 34 4.2 35 1.9 33.9 0.1 33.9 -1 30.5 -1 29.6 -1.3 30 0.5 31 2.3",
    "Rwanda": "28.9 -2.6 29.6 -1.3 30.5 -1 30.9 -2.3",
    "Burundi": "28.9 -2.6 30.9 -2.3 30.5 -3.6 29.4 -4.4",
    "Tanzania": "30.5 -1 33.9 -1 37.7 -3.1 39.2 -4.7 39.3 -7 39.5 -10.2 40.4 -10.5 37.5 -11.7 34.9 -11.5 33 -9.5 31 -8.7 29.5 -6.5 29.4 -4.4 30.5 -3.6 30.9 -2.3",
    "DR Congo": "12.2 -6 13 -5.9 16.5 -5.9 17 -7.6 19.5 -7 21.8 -7.3 22 -11 23.8 -11 25 -11.5 27 -11.8 28.5 -12.4 29.8 -13.4 29.8 -12.2 28.4 -11.8 28.9 -9 29.5 -6.5 29.4 -4.4 28.9 -2.6 29.6 -1.3 30 0.5 31 2.3 31 3.7 27.8 4.6 27.4 5 22.8 4.7 20.5 4.4 18.5 3.5 17.7 -0.5 16 -3 14 -4.4 12.2 -5",
    "Congo": "11.2 -3.9 11.8 -4.8 12.2 -5 14 -4.4 16 -3 17.7 -0.5 18.5 3.5 16.2 2.2 14.5 2.1 14.4 -0.5 13 -2.3 12 -3",
    "Gabon": "9.3 1.2 11.3 1 11.3 2.2 13.3 2.2 14.5 2.1 14.4 -0.5 13 -2.3 12 -3 11.2 -3.9 8.8 -1",
    "Equatorial Guinea": "9.8 2.3 11.3 2.2 11.3 1 9.3 1.2",
    "Angola": "11.8 -17.3 11.7 -16 13.5 -12.5 13.8 -10.7 12.2 -6 13 -5.9 16.5 -5.9 17 -7.6 19.5 -7 21.8 -7.3 22 -11 23.8 -11 24 -13 22 -13 22 -16.2 23.4 -17.6 21.4 -18 13.4 -17.3",
    "Zambia": "22 -13 24 -13 23.8 -11 25 -11.5 27 -11.8 28.5 -12.4 29.8 -13.4 29.8 -12.2 28.4 -11.8 28.9 -9 31 -8.7 33 -9.5 33.3 -11 32.7 -13.6 30.2 -15 30.2 -15.6 28.9 -16 25.3 -17.8 23.4 -17.6 22 -16.2",
    "Zimbabwe": "25.3 -17.8 28.9 -16 30.2 -15.6 32.9 -16.7 33 -20 31.3 -22.4 29.4 -22.2 27.7 -20.5",
    "Malawi": "33 -9.5 34.9 -11.5 34.7 -14.2 35.8 -14.8 35 -17 33.3 -14.5 32.7 -13.6 33.3 -11",
    "Mozambique": "34.9 -11.5 37.5 -11.7 40.4 -10.5 40.7 -14.8 36.9 -18 34.7 -20 35.5 -24 32.8 -26 32 -26 31.3 -22.4 33 -20 32.9 -16.7 30.2 -15.6 30.2 -15 32.7 -13.6 33.3 -14.5 35 -17 35.8 -14.8 34.7 -14.2",
    "Namibia": "11.8 -17.3 13.4 -17.3 21.4 -18 23.4 -17.6 25.3 -17.8 21 -18.3 21 -22 20 -22 20 -28.4 17.4 -28.7 16.4 -28.6 14.5 -22.5",
    "Botswana": "21 -18.3 25.3 -17.8 27.7 -20.5 29.4 -22.2 26.5 -24.7 25.5 -25.7 23 -25.3 20.7 -26.8 20 -25 20 -22 21 -22",
    "South Africa": "16.4 -28.6 17.4 -28.7 20 -28.4 20 -25 20.7 -26.8 23 -25.3 25.5 -25.7 26.5 -24.7 29.4 -22.2 31.3 -22.4 32 -26 32.8 -26 32.8 -27.5 30.5 -31 27 -33.8 22 -34.2 18.5 -34.5 18.2 -31.7",
    "Lesotho": "27 -29.6 28.5 -28.6 29.4 -29.5 28 -30.6",
    "Eswatini": "30.8 -26.3 32 -26 32 -27 31 -27.2",
    "Madagascar": "49.3 -12 50.5 -15.5 49.5 -17 47 -25 45 -25.5 43.7 -23.4 44.3 -19.5 44 -16.5 47 -15.5",
    "Australia": "113.5 -22 114.2 -26 115 -34.3 118 -35 123.5 -33.9 126 -32.3 131 -31.5 134 -32.8 136 -34.8 138 -33 138 -35.6 140.5 -38 143.5 -38.8 146.3 -39 150 -37.3 151 -33.8 153 -31 153.5 -27.5 153 -25 150.8 -23 149 -20.5 146.2 -18.8 145.3 -15 142.8 -10.8 142 -11.5 141.5 -15 140.8 -17.5 139 -17.3 135.5 -15 136.7 -12.2 132.6 -11.5 130 -12.5 129.5 -15 127 -14 125 -15.5 122.3 -18 119 -20 116 -21|145 -40.8 148 -40.8 148 -42.2 146.5 -43.6 145.5 -42.5",
    "New Zealand": "172.7 -40.5 174.2 -41.5 172 -43.8 170.8 -46 167 -46.2 168.5 -44.2 171.5 -41.5|174.5 -36 175.5 -36.8 178.4 -37.7 177 -39.5 175.2 -41.6 174.8 -39.5 174.7 -38 173 -34.5",
}

# The page keeps an 8 px margin, so the figure is 16 px smaller than the window
PAGE_W, PAGE_H, PAGE_MARGIN = 1200, 840, 8
FIG_W, FIG_H = PAGE_W - 2 * PAGE_MARGIN, PAGE_H - 2 * PAGE_MARGIN


def px(x):
    return (x - PAGE_MARGIN) / FIG_W


def py(y):
    return 1 - (y - PAGE_MARGIN) / FIG_H


def hex_rgb(h):
    return [int(h[i:i + 2], 16) for i in (1, 3, 5)]


def value_color(v):
    """Continuous colour between the legend steps."""
    pos = np.interp(v, legend_breaks, range(len(legend_breaks)))
    rgb = np.array([hex_rgb(c) for c in legend_colors], dtype=float)
    chan = [np.interp(pos, range(len(rgb)), rgb[:, k]) for k in range(3)]
    return "rgb(%d,%d,%d)" % tuple(round(c) for c in chan)


def ring_lonlat(text):
    """Parse one ring, close it, make it clockwise and keep edges straight in lon/lat."""
    nums = np.array(text.split(), dtype=float).reshape(-1, 2)
    x, y = nums[:, 0], nums[:, 1]
    if 0.5 * np.sum(x * np.roll(y, -1) - np.roll(x, -1) * y) > 0:
        nums = nums[::-1]
    nums = np.vstack([nums, nums[:1]])
    pts = []
    for a, b in zip(nums[:-1], nums[1:]):
        n = max(1, int(np.ceil(np.abs(b - a).max() / 1.5)))
        for t in np.arange(n) / n:
            pts.append(a + (b - a) * t)
    pts.append(nums[-1])
    return np.array(pts)


fig = go.Figure()
for name, outline in outlines.items():
    lons, lats = [], []
    for part in outline.split("|"):
        r = ring_lonlat(part)
        lons += r[:, 0].tolist() + [None]
        lats += r[:, 1].tolist() + [None]
    color = value_color(hospitals[name]) if name in hospitals else NO_DATA
    fig.add_trace(go.Scattergeo(
        lon=lons[:-1], lat=lats[:-1], mode="lines", fill="toself", fillcolor=color,
        line=dict(color="white", width=0.7), name=name, hoverinfo="name", showlegend=False,
    ))

# Legend: a row of thin stepped bars on a category axis
fig.add_trace(go.Bar(
    x=[str(b) for b in legend_breaks], y=[1] * len(legend_breaks),
    marker=dict(color=legend_colors, line_width=0), width=0.95,
    hoverinfo="skip", showlegend=False, xaxis="x", yaxis="y",
))

fig.update_layout(
    width=FIG_W, height=FIG_H, autosize=False,
    margin=dict(l=0, r=0, t=0, b=0),
    paper_bgcolor="white", plot_bgcolor="white",
    font=dict(family="Liberation Sans", color="#1A1A1A"),
    title=dict(text="<b>%s</b>" % TITLE, x=0.5, xanchor="center", y=py(104), yanchor="middle",
               font=dict(size=33, color="#1A1A1A")),
    geo=dict(
        domain=dict(x=[0, 1], y=[0, 1]),
        projection=dict(type="robinson", scale=1.072),
        center=dict(lon=0, lat=19.8),
        lonaxis=dict(range=[-180, 180], showgrid=False),
        lataxis=dict(range=[-90, 90], showgrid=False),
        showland=False, showocean=False, showlakes=False, showrivers=False,
        showcountries=False, showcoastlines=False, showframe=False, showsubunits=False,
        bgcolor="rgba(0,0,0,0)",
    ),
    xaxis=dict(domain=[px(352), px(849)], type="category", showgrid=False, zeroline=False, showline=False,
               ticks="outside", ticklen=3, tickcolor="rgba(0,0,0,0)", tickfont=dict(size=17, color="#222222"),
               fixedrange=True),
    yaxis=dict(domain=[py(761), py(757)], range=[0, 1], visible=False, fixedrange=True),
    annotations=[
        dict(text=SUBTITLE, x=0.5, y=py(146), xref="paper", yref="paper", showarrow=False,
             xanchor="center", yanchor="middle", font=dict(size=50.5, color="#5E7D4B")),
        dict(text=DATE_LABEL, x=0.5, y=py(815), xref="paper", yref="paper", showarrow=False,
             xanchor="center", yanchor="middle", font=dict(size=16.5, color="#222222")),
    ],
)
fig.write_html("out.html")
